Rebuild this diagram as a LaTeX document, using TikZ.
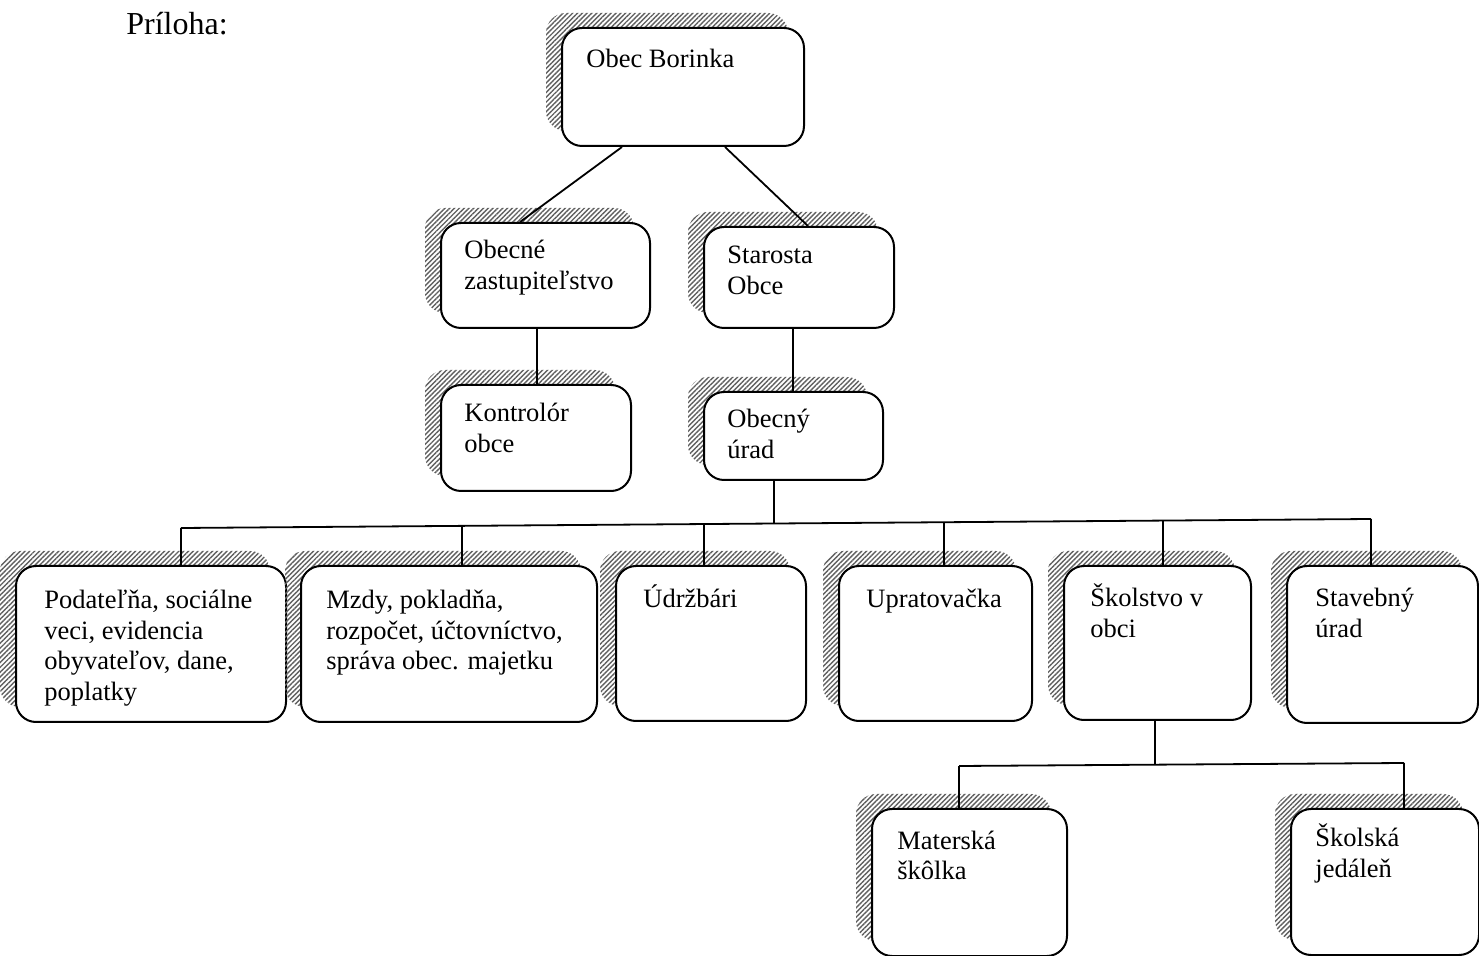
\documentclass[tikz,border=0pt]{standalone}
\usepackage{fontspec}
\setmainfont{Liberation Serif}
\usetikzlibrary{shadows,patterns.meta,calc}
\newcommand\mlines[1]{\parbox[t]{160pt}{\raggedright #1}}
\begin{document}
\begin{tikzpicture}[x=0.5pt,y=-0.5pt,
  orgbox/.style={draw=black, line width=1pt, rounded corners=10pt, fill=white,
    anchor=north west, inner sep=0pt,
    general shadow={shadow xshift=-8pt, shadow yshift=7.5pt,
      pattern={Lines[angle=45,distance=1.7pt,line width=0.7pt]},
      pattern color=gray!75!black}},
  lbl/.style={anchor=base west, inner sep=0pt, font=\fontsize{13.25}{15.25}\selectfont},
  conn/.style={line width=0.9pt}]
\useasboundingbox (0,0) rectangle (1479,956);

\node[anchor=base west, inner sep=0pt, font=\fontsize{16}{18}\selectfont] (title) at (126,35) {Príloha:};

% boxes
\node[orgbox, minimum width=121pt, minimum height=59pt] (borinka) at (561,27) {};
\node[orgbox, minimum width=104.5pt, minimum height=52.5pt] (zast) at (440,222) {};
\node[orgbox, minimum width=95pt, minimum height=50.5pt] (star) at (703,226) {};
\node[orgbox, minimum width=95pt, minimum height=53pt] (kont) at (440,384) {};
\node[orgbox, minimum width=89.5pt, minimum height=44pt] (urad) at (703,391) {};
\node[orgbox, minimum width=135pt, minimum height=78pt] (pod) at (15,565) {};
\node[orgbox, minimum width=148pt, minimum height=78pt] (mzdy) at (300,565) {};
\node[orgbox, minimum width=95pt, minimum height=77.5pt] (udrz) at (615,565) {};
\node[orgbox, minimum width=96.5pt, minimum height=77.5pt] (uprat) at (838,565) {};
\node[orgbox, minimum width=93.5pt, minimum height=77pt] (skol) at (1063,565) {};
\node[orgbox, minimum width=95.5pt, minimum height=78.5pt] (stav) at (1286,565) {};
\node[orgbox, minimum width=97.5pt, minimum height=73.5pt] (mat) at (871,808) {};
\node[orgbox, minimum width=94pt, minimum height=73pt] (jed) at (1290,808) {};

% texts
\node[lbl] (tborinka) at (586,68) {Obec Borinka};
\node[lbl] (tzast) at (464,259) {\mlines{Obecné\\zastupiteľstvo}};
\node[lbl] (tstar) at (727,264) {\mlines{Starosta\\Obce}};
\node[lbl] (tkont) at (464,422) {\mlines{Kontrolór\\obce}};
\node[lbl] (turad) at (727,428) {\mlines{Obecný\\úrad}};
\node[lbl] (tpod) at (44,609) {\mlines{Podateľňa, sociálne\\veci, evidencia\\obyvateľov, dane,\\poplatky}};
\node[lbl] (tmzdy) at (326,609) {\mlines{Mzdy, pokladňa,\\rozpočet, účtovníctvo,\\správa obec. majetku}};
\node[lbl] (tudrz) at (643,608) {Údržbári};
\node[lbl] (tuprat) at (866,608) {Upratovačka};
\node[lbl] (tskol) at (1090,607) {\mlines{Školstvo v\\obci}};
\node[lbl] (tstav) at (1315,607) {\mlines{Stavebný\\úrad}};
\node[lbl] (tmat) at (897,849) {\mlines{Materská\\škôlka}};
\node[lbl] (tjed) at (1315,847) {\mlines{Školská\\jedáleň}};

% connectors
\draw[conn] ($(borinka.south west)+(61,0)$) -- ($(zast.north west)+(80,0)$);
\draw[conn] ($(borinka.south west)+(164,0)$) -- ($(star.north west)+(105,0)$);
\draw[conn] ($(zast.south west)+(97,0)$) -- ($(kont.north west)+(97,0)$);
\draw[conn] ($(star.south west)+(90,0)$) -- ($(urad.north west)+(90,0)$);

\coordinate (bu) at (774,523.5);
\coordinate (b1) at (181,528);
\coordinate (b2) at (462,526);
\coordinate (b3) at (704,524);
\coordinate (b4) at (944,522.2);
\coordinate (b5) at (1163,520.6);
\coordinate (b6) at (1371,519);
\draw[conn] ($(urad.south west)+(71,0)$) -- (bu);
\draw[conn] (b1) -- (b6);
\draw[conn] (b1) -- (b1 |- pod.north);
\draw[conn] (b2) -- (b2 |- mzdy.north);
\draw[conn] (b3) -- (b3 |- udrz.north);
\draw[conn] (b4) -- (b4 |- uprat.north);
\draw[conn] (b5) -- (b5 |- skol.north);
\draw[conn] (b6) -- (b6 |- stav.north);

\coordinate (sk) at (1155,764.5);
\coordinate (m1) at (959,766);
\coordinate (m2) at (1404,763);
\draw[conn] ($(skol.south west)+(92,0)$) -- (sk);
\draw[conn] (m1) -- (m2);
\draw[conn] (m1) -- (m1 |- mat.north);
\draw[conn] (m2) -- (m2 |- jed.north);
\end{tikzpicture}
\end{document}
